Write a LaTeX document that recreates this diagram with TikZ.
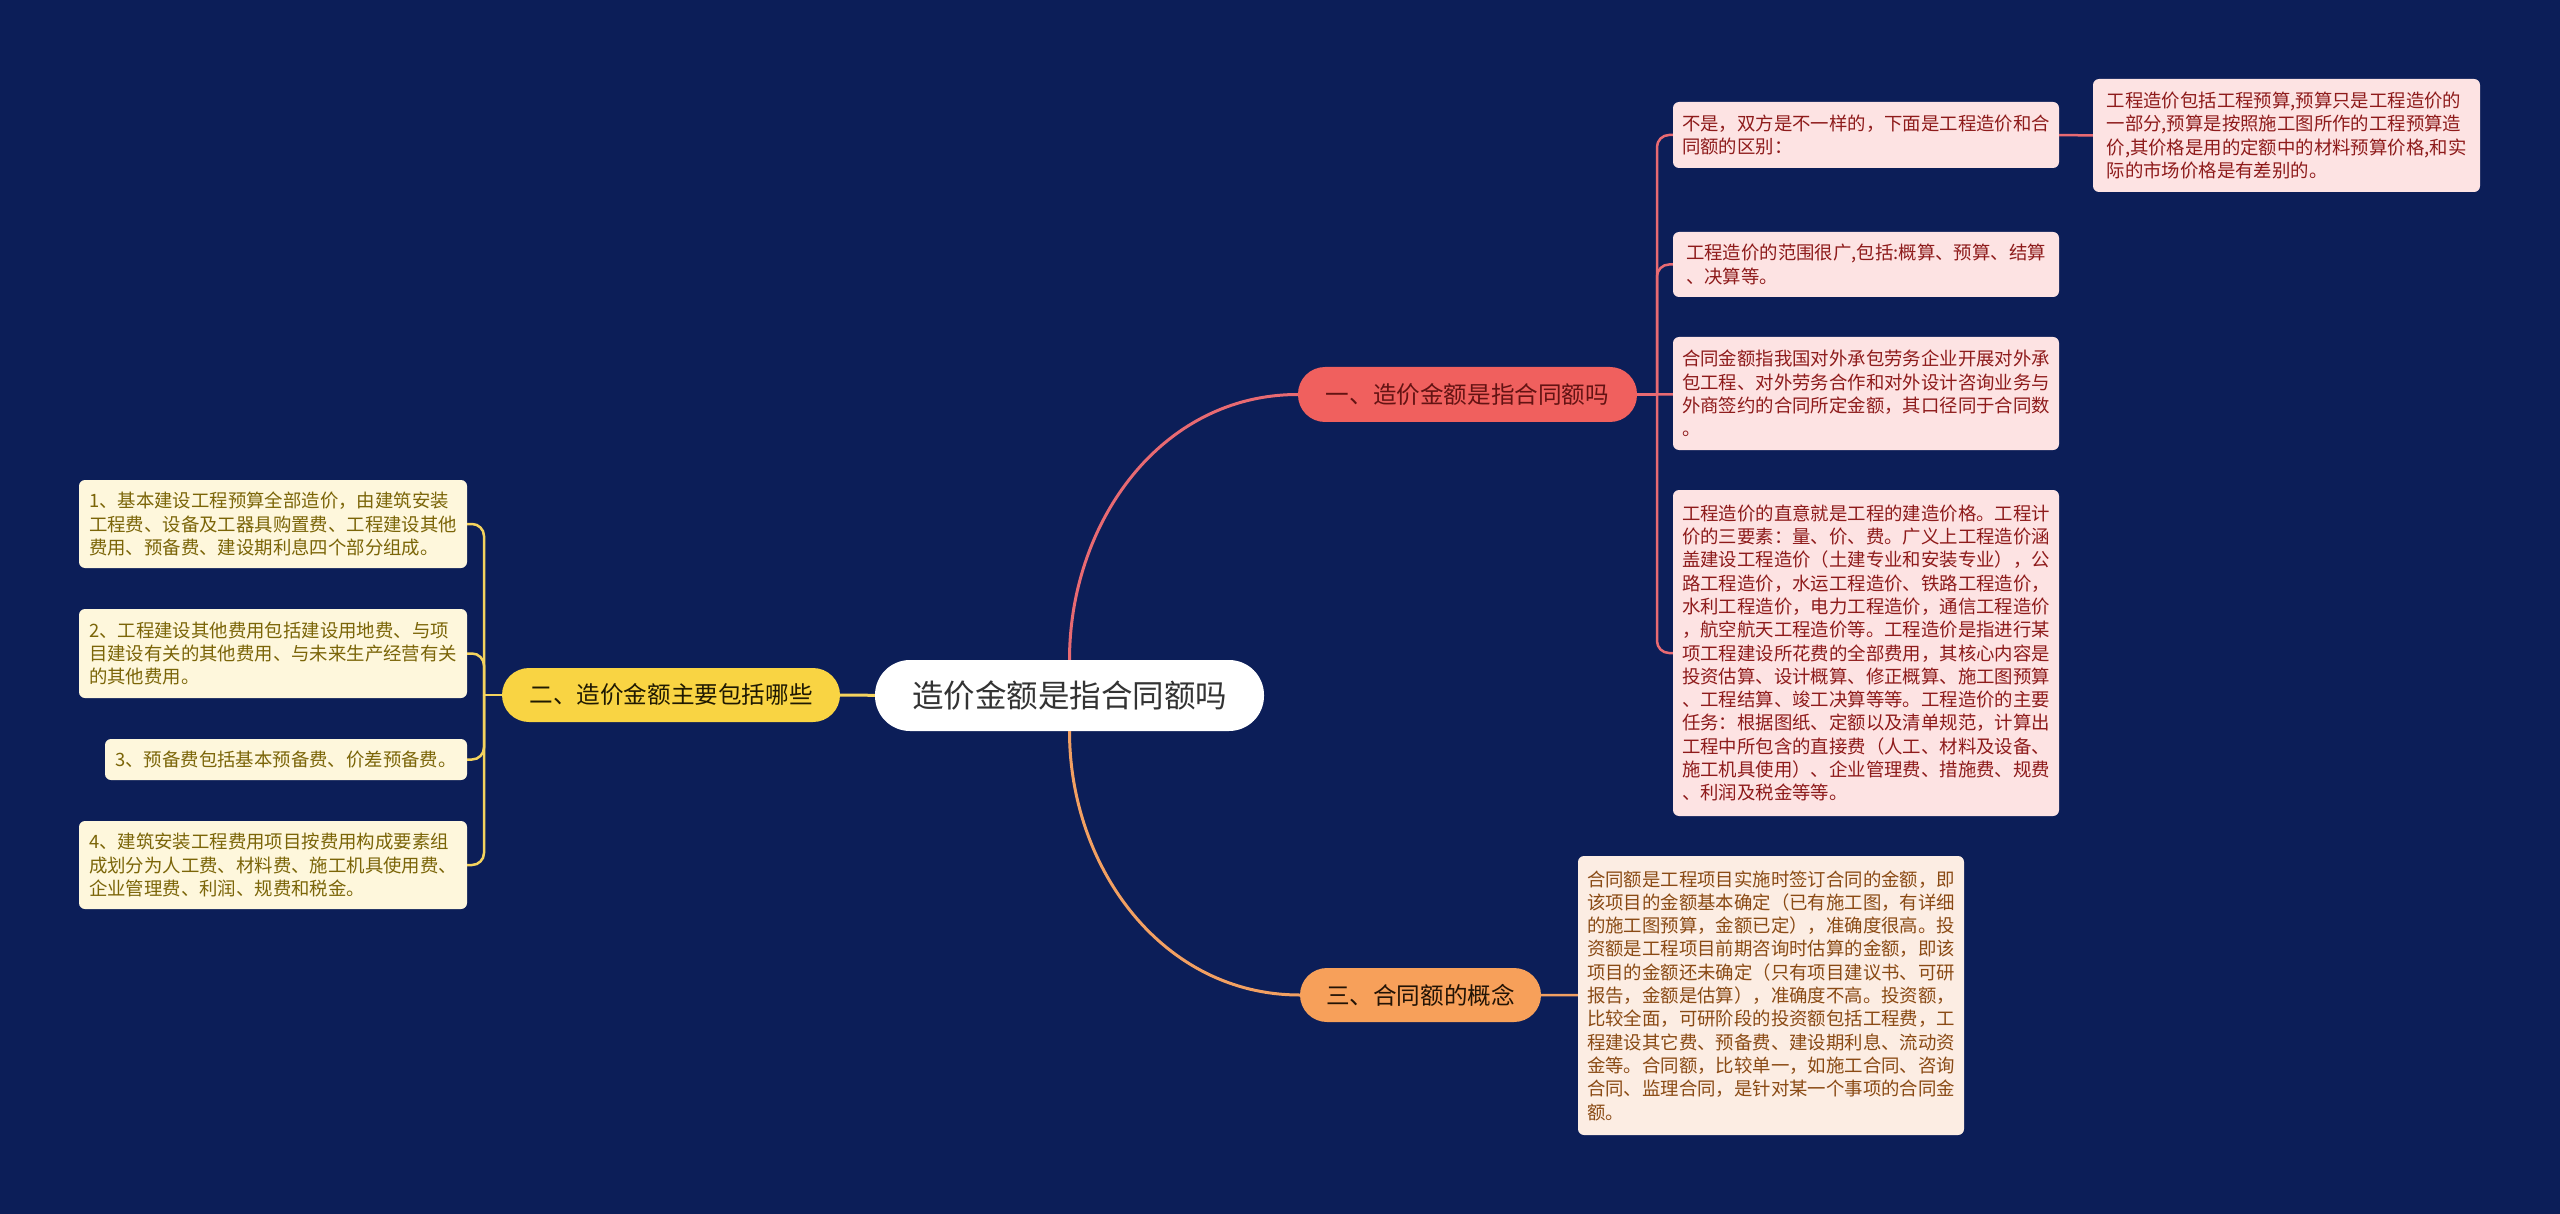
\documentclass[tikz,border=0pt]{standalone}
\usepackage{fontspec}
\usepackage{tikz}
\usetikzlibrary{positioning}
\newfontfamily\cjk{Noto Sans CJK SC}
\definecolor{bgblue}{HTML}{0C1E58}
\definecolor{redfill}{HTML}{F0605E}
\definecolor{redline}{HTML}{E86A72}
\definecolor{redleaf}{HTML}{FDE3E3}
\definecolor{redtext}{HTML}{8E1B1B}
\definecolor{yelfill}{HTML}{F9D443}
\definecolor{yelline}{HTML}{F4D35E}
\definecolor{yelleaf}{HTML}{FEF7DC}
\definecolor{yeltext}{HTML}{7B6508}
\definecolor{orafill}{HTML}{F7A05A}
\definecolor{oraline}{HTML}{F2A062}
\definecolor{oraleaf}{HTML}{FCEDE3}
\definecolor{oratext}{HTML}{8A4A14}
\tikzstyle{rootnode} = [rounded corners=35pt, fill=white, text=black!80, inner sep=0pt, font=\cjk\fontsize{31.5}{36}\selectfont]
\tikzstyle{topic} = [rounded corners=27pt, inner sep=0pt, font=\cjk\fontsize{23.6}{28}\selectfont]
\tikzstyle{leaf} = [rounded corners=6pt, inner sep=0pt, align=left, font=\cjk\fontsize{18.4}{23.3}\selectfont]
\tikzstyle{rleaf} = [leaf, fill=redleaf, text=redtext]
\tikzstyle{yleaf} = [leaf, fill=yelleaf, text=yeltext]
\tikzstyle{oleaf} = [leaf, fill=oraleaf, text=oratext]
\tikzstyle{rline} = [draw=redline, line width=2.5pt]
\tikzstyle{yline} = [draw=yelline, line width=2.5pt]
\tikzstyle{oline} = [draw=oraline, line width=2.5pt]

\begin{document}
\begin{tikzpicture}[x=1pt, y=-1pt]
			\fill [bgblue] (0, 0) rectangle (2560, 1214);
			\useasboundingbox (0, 0) rectangle (2560, 1214);

			\node [rootnode, minimum width=389pt, minimum height=71pt] (root) at (1069.5, 695.5) {造价金额是指合同额吗};
			\node [topic, fill=redfill, text=redtext!70!black, minimum width=339pt, minimum height=55pt] (t1) at (1467.5, 394.5) {一、造价金额是指合同额吗};
			\node [topic, fill=yelfill, text=black!75!yeltext, minimum width=338pt, minimum height=54pt] (t2) at (671, 695) {二、造价金额主要包括哪些};
			\node [topic, fill=orafill, text=black!75!oratext, minimum width=241pt, minimum height=54pt] (t3) at (1420.5, 995) {三、合同额的概念};

			% branch one
			\node [rleaf, minimum width=386pt, minimum height=66pt] (r1) at (1866, 135) {不是，双方是不一样的，下面是工程造价和合\\同额的区别：};
			\node [rleaf, minimum width=387pt, minimum height=113pt] (r1a) at (2286.5, 135.5) {工程造价包括工程预算,预算只是工程造价的\\一部分,预算是按照施工图所作的工程预算造\\价,其价格是用的定额中的材料预算价格,和实\\际的市场价格是有差别的。};
			\node [rleaf, minimum width=386pt, minimum height=65pt] (r2) at (1866, 264.5) {工程造价的范围很广,包括:概算、预算、结算\\、决算等。};
			\node [rleaf, minimum width=386pt, minimum height=113pt] (r3) at (1866, 393.5) {合同金额指我国对外承包劳务企业开展对外承\\包工程、对外劳务合作和对外设计咨询业务与\\外商签约的合同所定金额，其口径同于合同数\\。};
			\node [rleaf, minimum width=386pt, minimum height=326pt] (r4) at (1866, 653) {工程造价的直意就是工程的建造价格。工程计\\价的三要素：量、价、费。广义上工程造价涵\\盖建设工程造价（土建专业和安装专业），公\\路工程造价，水运工程造价、铁路工程造价，\\水利工程造价，电力工程造价，通信工程造价\\，航空航天工程造价等。工程造价是指进行某\\项工程建设所花费的全部费用，其核心内容是\\投资估算、设计概算、修正概算、施工图预算\\、工程结算、竣工决算等等。工程造价的主要\\任务：根据图纸、定额以及清单规范，计算出\\工程中所包含的直接费（人工、材料及设备、\\施工机具使用）、企业管理费、措施费、规费\\、利润及税金等等。};

			% branch two
			\node [yleaf, minimum width=388pt, minimum height=88pt] (y1) at (273, 524) {1、基本建设工程预算全部造价，由建筑安装\\工程费、设备及工器具购置费、工程建设其他\\费用、预备费、建设期利息四个部分组成。};
			\node [yleaf, minimum width=388pt, minimum height=89pt] (y2) at (273, 653.5) {2、工程建设其他费用包括建设用地费、与项\\目建设有关的其他费用、与未来生产经营有关\\的其他费用。};
			\node [yleaf, minimum width=362pt, minimum height=41pt] (y3) at (286, 759.5) {3、预备费包括基本预备费、价差预备费。};
			\node [yleaf, minimum width=388pt, minimum height=88pt] (y4) at (273, 865) {4、建筑安装工程费用项目按费用构成要素组\\成划分为人工费、材料费、施工机具使用费、\\企业管理费、利润、规费和税金。};

			% branch three
			\node [oleaf, minimum width=386pt, minimum height=279pt] (o1) at (1771, 995.5) {合同额是工程项目实施时签订合同的金额，即\\该项目的金额基本确定（已有施工图，有详细\\的施工图预算，金额已定），准确度很高。投\\资额是工程项目前期咨询时估算的金额，即该\\项目的金额还未确定（只有项目建议书、可研\\报告，金额是估算），准确度不高。投资额，\\比较全面，可研阶段的投资额包括工程费，工\\程建设其它费、预备费、建设期利息、流动资\\金等。合同额，比较单一，如施工合同、咨询\\合同、监理合同，是针对某一个事项的合同金\\额。};

			\coordinate (rj) at (1657, 394.5);
			\coordinate (yj) at (484, 695);

			\path [rline, line width=3pt] (root.north) to[out=90, in=180] (t1.west);
			\path [oline, line width=3pt] (root.south) to[out=-90, in=180] (t3.west);
			\path [yline, line width=3pt] (root) -- (t2);

			\path [rline] (t1) -- (rj);
			\path [rline, rounded corners=12pt] (rj) |- (r1);
			\path [rline, rounded corners=12pt] (rj) |- (r2);
			\path [rline] (rj) -- (r3);
			\path [rline, rounded corners=12pt] (rj) |- (r4);
			\path [rline] (r1) -- (r1a);

			\path [yline] (t2) -- (yj);
			\path [yline, rounded corners=12pt] (yj) |- (y1);
			\path [yline, rounded corners=12pt] (yj) |- (y2);
			\path [yline, rounded corners=12pt] (yj) |- (y3);
			\path [yline, rounded corners=12pt] (yj) |- (y4);

			\path [oline] (t3) -- (o1);
		\end{tikzpicture}
\end{document}
